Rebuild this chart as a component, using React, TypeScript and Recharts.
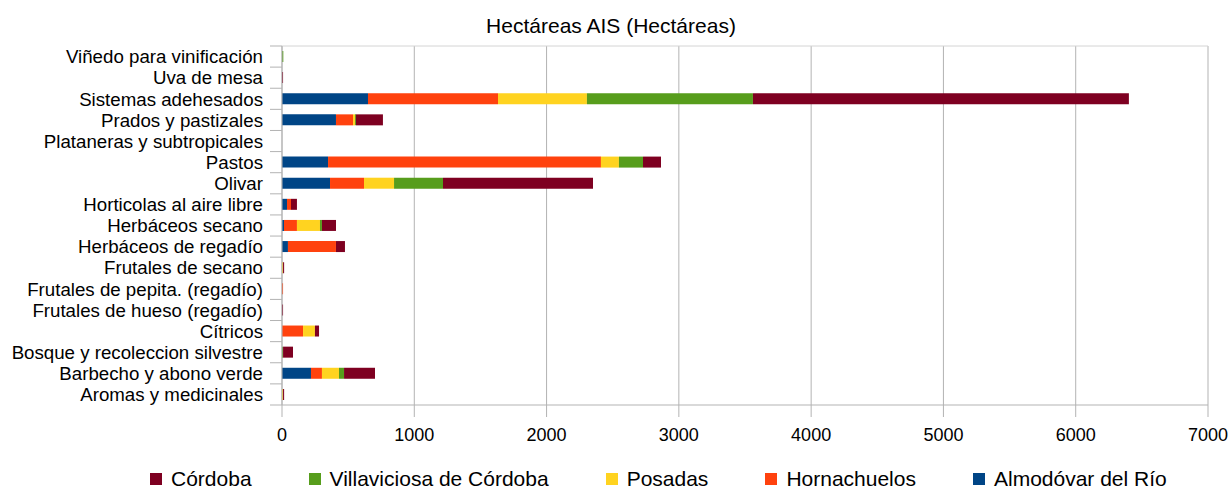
import { Bar, BarChart, CartesianGrid, Legend, XAxis, YAxis } from 'recharts';

const categories = [
  'Viñedo para vinificación',
  'Uva de mesa',
  'Sistemas adehesados',
  'Prados y pastizales',
  'Plataneras y subtropicales',
  'Pastos',
  'Olivar',
  'Horticolas al aire libre',
  'Herbáceos secano',
  'Herbáceos de regadío',
  'Frutales de secano',
  'Frutales de pepita. (regadío)',
  'Frutales de hueso (regadío)',
  'Cítricos',
  'Bosque y recoleccion silvestre',
  'Barbecho y abono verde',
  'Aromas y medicinales',
];

const almodovar = [0, 0, 650, 408, 0, 348, 363, 38, 15, 45, 0, 0, 0, 0, 0, 219, 0];
const hornachuelos = [0, 0, 983, 129, 0, 2063, 257, 30, 98, 363, 0, 8, 0, 159, 0, 83, 0];
const posadas = [0, 0, 672, 15, 0, 136, 227, 0, 174, 0, 8, 0, 0, 90, 0, 129, 8];
const villaviciosa = [10, 0, 1255, 7, 0, 182, 370, 0, 15, 0, 0, 0, 0, 0, 8, 38, 0];
const cordoba = [0, 8, 2842, 204, 0, 136, 1134, 45, 106, 68, 8, 0, 8, 31, 75, 234, 8];

const xTicks = [0, 1000, 2000, 3000, 4000, 5000, 6000, 7000];

// stacking order, left to right
const series = [
  { key: 'almodovar', name: 'Almodóvar del Río', color: '#004586', values: almodovar },
  { key: 'hornachuelos', name: 'Hornachuelos', color: '#ff420e', values: hornachuelos },
  { key: 'posadas', name: 'Posadas', color: '#ffd320', values: posadas },
  { key: 'villaviciosa', name: 'Villaviciosa de Córdoba', color: '#579d1c', values: villaviciosa },
  { key: 'cordoba', name: 'Córdoba', color: '#7e0021', values: cordoba },
];

const data = categories.map((name, i) => {
  const row: any = { name };
  series.forEach((s) => (row[s.key] = s.values[i]));
  return row;
});

const W = 1230;
const H = 489;
const TOP = 46;
const BOTTOM = 84;
const BAND = (H - TOP - BOTTOM) / categories.length;
const FONT = '"Liberation Sans", Arial, sans-serif';
const GRID = '#b3b3b3';

const CategoryTick = (props: any) => {
  const { x, y, payload, index } = props;
  const half = BAND / 2;
  return (
    <g>
      <text x={x} y={y} dy="0.36em" textAnchor="end" fontSize={18.7} fill="#000" fontFamily={FONT}>
        {payload.value}
      </text>
      <line x1={x + 7} x2={x + 19} y1={y - half} y2={y - half} stroke={GRID} />
      {index === categories.length - 1 && (
        <line x1={x + 7} x2={x + 19} y1={y + half} y2={y + half} stroke={GRID} />
      )}
    </g>
  );
};

const LegendBox = () => (
  <div style={{ display: 'flex', alignItems: 'center', gap: 57, fontFamily: FONT, fontSize: 21, lineHeight: '24px', color: '#000' }}>
    {[...series].reverse().map((s) => (
      <div key={s.key} style={{ display: 'flex', alignItems: 'center' }}>
        <span style={{ display: 'inline-block', width: 12, height: 12, background: s.color, marginRight: 9 }} />
        <span>{s.name}</span>
      </div>
    ))}
  </div>
);

export default function App() {
  return (
    <div style={{ position: 'absolute', left: 0, top: 0, width: W, height: H, background: '#fff' }}>
      <div
        style={{
          position: 'absolute',
          top: 14,
          left: -4,
          width: W,
          textAlign: 'center',
          fontFamily: FONT,
          fontSize: 21,
          lineHeight: '24px',
          color: '#000',
        }}
      >
        Hectáreas AIS (Hectáreas)
      </div>
      <BarChart width={W} height={H} data={data} layout="vertical" margin={{ top: TOP, right: 22, left: 0, bottom: 44 }}>
        <CartesianGrid vertical horizontal={false} stroke={GRID} />
        <CartesianGrid
          vertical={false}
          horizontal
          stroke="#d4d4d4"
          horizontalCoordinatesGenerator={({ offset }: any) => [offset.top]}
        />
        <XAxis
          type="number"
          domain={[0, 7000]}
          ticks={xTicks}
          interval={0}
          height={40}
          tickSize={12}
          tickMargin={11}
          stroke={GRID}
          tick={{ fill: '#000', fontSize: 18, fontFamily: FONT }}
        />
        <YAxis
          type="category"
          dataKey="name"
          width={282}
          interval={0}
          tickSize={12}
          tickMargin={7}
          tickLine={false}
          stroke={GRID}
          tick={<CategoryTick />}
        />
        {series.map((s) => (
          <Bar key={s.key} dataKey={s.key} name={s.name} stackId="a" fill={s.color} barSize={11} isAnimationActive={false} />
        ))}
        <Legend
          layout="horizontal"
          verticalAlign="middle"
          align="center"
          content={<LegendBox />}
          wrapperStyle={{ top: 467, left: 150, width: 1070, height: 24 }}
        />
      </BarChart>
    </div>
  );
}
